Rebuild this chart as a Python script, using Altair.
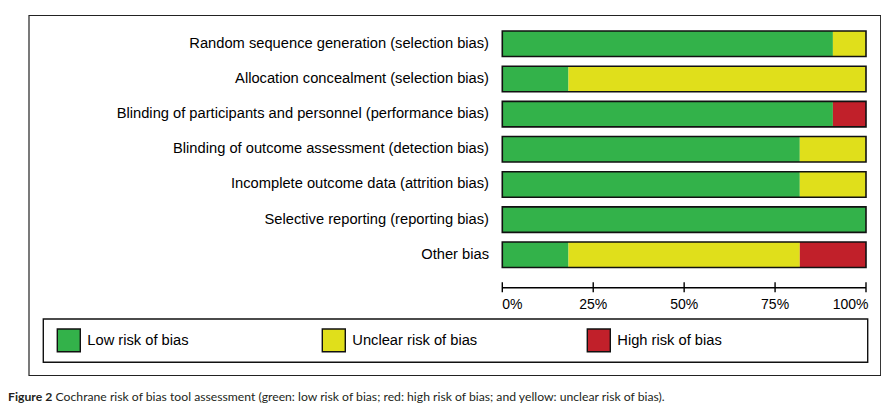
import altair as alt
import pandas as pd

# ---- data ----
criteria = [
    "Random sequence generation (selection bias)",
    "Allocation concealment (selection bias)",
    "Blinding of participants and personnel (performance bias)",
    "Blinding of outcome assessment (detection bias)",
    "Incomplete outcome data (attrition bias)",
    "Selective reporting (reporting bias)",
    "Other bias",
]
low = [90.9, 18.2, 90.9, 81.8, 81.8, 100.0, 18.2]
unclear = [9.1, 81.8, 0.0, 18.2, 18.2, 0.0, 63.6]
high = [0.0, 0.0, 9.1, 0.0, 0.0, 0.0, 18.2]

judgements = ["Low risk of bias", "Unclear risk of bias", "High risk of bias"]
colors = ["#33b24a", "#e0df1b", "#c1202a"]

tick_values = [0, 25, 50, 75, 100]
tick_labels = ["0%", "25%", "50%", "75%", "100%"]

caption_bold = "Figure 2"
caption_text = ("Cochrane risk of bias tool assessment (green: low risk of bias; "
                "red: high risk of bias; and yellow: unclear risk of bias).")

# ---- tables ----
rows = []
for ci, c in enumerate(criteria):
    for k, (j, vals) in enumerate(zip(judgements, [low, unclear, high])):
        rows.append({"criterion": c, "judgement": j, "pct": vals[ci], "k": k})
bars_df = pd.DataFrame(rows)
ticks_df = pd.DataFrame({"tick": tick_values, "label": tick_labels})

FONT = "Arial, Liberation Sans, sans-serif"

xs = alt.Scale(domain=[0, 100], range=[494.3, 858], nice=False, zero=False)
ys = alt.Scale(domain=criteria, range=[18.2, 264.4], paddingInner=0.275, paddingOuter=0.1375)
cs = alt.Scale(domain=judgements, range=colors)

base = alt.Chart(bars_df)

bars = base.mark_bar(strokeWidth=0).encode(
    x=alt.X("pct:Q", stack="zero", scale=xs, axis=None),
    y=alt.Y("criterion:N", scale=ys, axis=None, sort=criteria),
    color=alt.Color("judgement:N", scale=cs, legend=None),
    order=alt.Order("k:Q"),
)

outline = base.mark_bar(fillOpacity=0, stroke="#111111", strokeWidth=1.6).encode(
    x=alt.X("sum(pct):Q", scale=xs, axis=None),
    y=alt.Y("criterion:N", scale=ys, axis=None, sort=criteria),
)

labels = alt.Chart(pd.DataFrame({"criterion": criteria})).mark_text(
    align="right", baseline="middle", font=FONT, fontSize=14.7, color="#000000"
).encode(
    x=alt.value(481),
    y=alt.Y("criterion:N", scale=ys, axis=None, sort=criteria, bandPosition=0.5),
    text="criterion:N",
)

tick_base = alt.Chart(ticks_df)
axis_line = tick_base.mark_rule(color="#000000", strokeWidth=1.4).encode(
    x=alt.X("min(tick):Q", scale=xs, axis=None),
    x2="max(tick):Q",
    y=alt.value(279.7),
)
tick_marks = tick_base.mark_rule(color="#000000", strokeWidth=1.4).encode(
    x=alt.X("tick:Q", scale=xs, axis=None),
    y=alt.value(274.3),
    y2=alt.value(284.3),
)
tick_text_kw = dict(baseline="middle", font=FONT, fontSize=14, color="#000000")
tl_first = tick_base.transform_filter(alt.datum.tick == 0).mark_text(align="left", **tick_text_kw).encode(
    x=alt.X("tick:Q", scale=xs, axis=None), y=alt.value(297), text="label:N")
tl_mid = tick_base.transform_filter((alt.datum.tick > 0) & (alt.datum.tick < 100)).mark_text(
    align="center", **tick_text_kw).encode(
    x=alt.X("tick:Q", scale=xs, axis=None), y=alt.value(297), text="label:N")
tl_last = tick_base.transform_filter(alt.datum.tick == 100).mark_text(align="right", dx=2.5, **tick_text_kw).encode(
    x=alt.X("tick:Q", scale=xs, axis=None), y=alt.value(297), text="label:N")

one = alt.Data(values=[{}])
outer_box = alt.Chart(one).mark_rect(fillOpacity=0, stroke="#222222", strokeWidth=1.2).encode(
    x=alt.value(21), x2=alt.value(872.7), y=alt.value(7.5), y2=alt.value(367.5))
legend_box = alt.Chart(one).mark_rect(fillOpacity=0, stroke="#111111", strokeWidth=1.4).encode(
    x=alt.value(35.3), x2=alt.value(859.7), y=alt.value(311), y2=alt.value(354.3))

legend_layers = []
for i, j in enumerate(judgements):
    d = alt.Data(values=[{"judgement": j}])
    x0 = 49.3 + i * 265
    legend_layers.append(
        alt.Chart(d).mark_rect(stroke="#111111", strokeWidth=1.4).encode(
            x=alt.value(x0), x2=alt.value(x0 + 23), y=alt.value(321), y2=alt.value(343.7),
            color=alt.Color("judgement:N", scale=cs, legend=None),
        )
    )
    legend_layers.append(
        alt.Chart(d).mark_text(align="left", baseline="middle", font=FONT, fontSize=14.7, color="#000000").encode(
            x=alt.value(x0 + 30), y=alt.value(333), text="judgement:N",
        )
    )

cap1 = alt.Chart(alt.Data(values=[{"t": caption_bold}])).mark_text(
    align="left", baseline="middle", font="Lato", fontSize=12.2, fontWeight="bold", color="#231f20"
).encode(x=alt.value(0), y=alt.value(389), text="t:N")
cap2 = alt.Chart(alt.Data(values=[{"t": caption_text}])).mark_text(
    align="left", baseline="middle", font="Lato", fontSize=12.2, color="#231f20"
).encode(x=alt.value(47.6), y=alt.value(389), text="t:N")

chart = alt.layer(
    outer_box, legend_box, bars, outline, labels,
    axis_line, tick_marks, tl_first, tl_mid, tl_last,
    *legend_layers, cap1, cap2,
).properties(
    width=873, height=400, padding=0, autosize="none", background="#ffffff"
).configure_view(stroke=None)

chart.save("out.html", embed_options={"renderer": "svg", "actions": False})
